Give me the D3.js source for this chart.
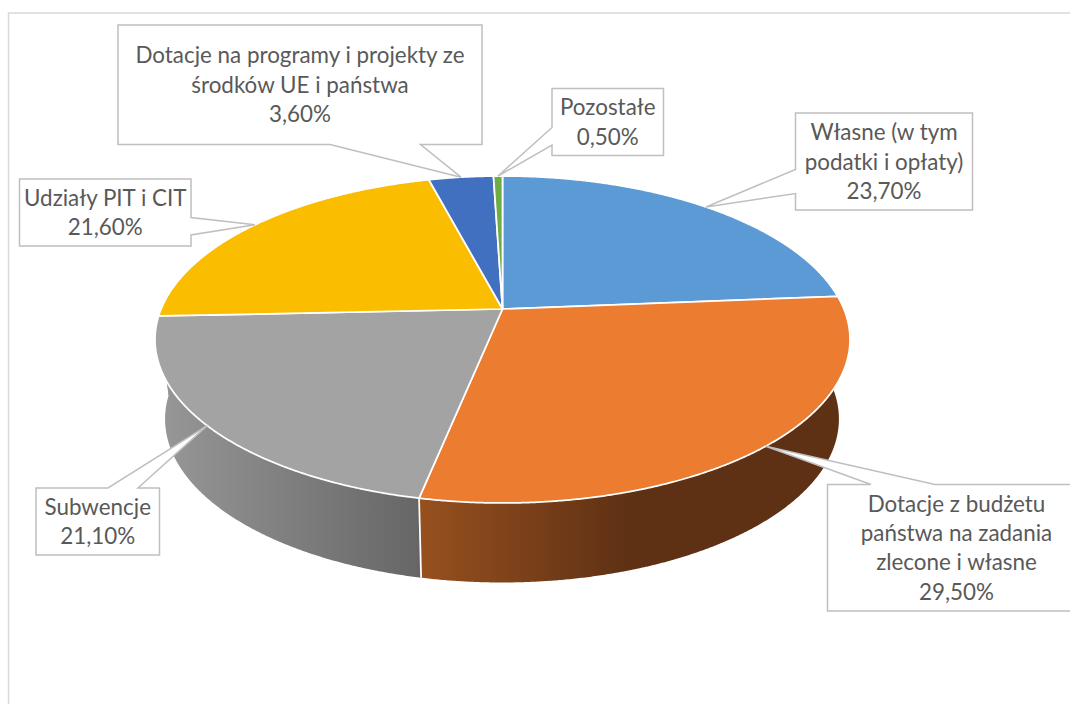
<!DOCTYPE html>
<html>
<head>
<meta charset="utf-8">
<script src="https://cdn.jsdelivr.net/npm/d3@7"></script>
<style>
  body { margin: 0; background: #fff; }
  svg { display: block; }
  text { font-family: Lato, "Open Sans", sans-serif; font-size: 22.4px; fill: #595959; }
</style>
</head>
<body>
<div id="content"></div>
<script>
const categories = [
  ["Własne (w tym", "podatki i opłaty)"],
  ["Dotacje z budżetu", "państwa na zadania", "zlecone i własne"],
  ["Subwencje"],
  ["Udziały PIT i CIT"],
  ["Dotacje na programy i projekty ze", "środków UE i państwa"],
  ["Pozostałe"]
];
const values = [23.7, 29.5, 21.1, 21.6, 3.6, 0.5];
const topColors = ["#5b9ad5", "#eb7c30", "#a3a3a3", "#fbbd00", "#4270c0", "#6eac45"];
const sideColors = ["#37618a", "url(#sideOrange)", "url(#sideGray)", "url(#sideGray)", "#2a4a80", "#47702c"];

// callout boxes: x, y, w, h, side the tail leaves from, tail base start/end along that side
const boxes = [
  [795.5, 113, 177, 97, "left", 169.5, 193.5],
  [827.5, 484.5, 258, 126.5, "top", 871, 935],
  [36, 488, 123.5, 67, "top", 108, 138],
  [19.5, 179, 171.5, 67, "right", 217.5, 235],
  [118, 25, 364, 119.5, "bottom", 330, 420.5],
  [552, 88.5, 111.5, 67, "left", 127.5, 145]
];

const svg = d3
  .select("#content")
  .append("svg")
  .attr("width", 1070)
  .attr("height", 704);

const defs = svg.append("defs");
function addGradient(id, x1, x2, stops) {
  const g = defs
    .append("linearGradient")
    .attr("id", id)
    .attr("gradientUnits", "userSpaceOnUse")
    .attr("x1", x1)
    .attr("x2", x2)
    .attr("y1", 0)
    .attr("y2", 0);
  stops.forEach((s) => g.append("stop").attr("offset", s[0]).attr("stop-color", s[1]));
}
addGradient("sideOrange", 421, 632, [[0, "#96501e"], [1, "#5e3014"]]);
addGradient("sideGray", 155, 420, [[0, "#989898"], [1, "#666666"]]);

// chart frame, only top and left are visible
svg
  .append("path")
  .attr("d", "M8.5,704V13H1070")
  .attr("fill", "none")
  .attr("stroke", "#d9d9d9")
  .attr("stroke-width", 1.5);

// tilted disc: circle seen in perspective, k is the perspective strength
const k = 0.1865;
function project(a, plane) {
  const u = Math.sin(a);
  const v = -Math.cos(a);
  const d = 1 - k * v;
  return [plane.x + (plane.rx * u) / d, plane.y + (plane.ry * v) / d];
}
const topPlane = { x: 502.5, y: 309, rx: 341.4, ry: 157.8 };
const bottomPlane = { x: 502, y: 388.5, rx: 331, ry: 157.8 };

const arcs = d3.pie().sort(null).value((d) => d)(values);
const line = d3.line();

function rim(d, plane) {
  const angles = d3.range(d.startAngle, d.endAngle, 0.005).concat([d.endAngle]);
  return angles.map((a) => project(a, plane));
}

// sides first, the top face covers whatever is behind
svg
  .append("g")
  .selectAll("path")
  .data(arcs)
  .enter()
  .append("path")
  .attr("d", (d) => line(rim(d, topPlane).concat(rim(d, bottomPlane).reverse())) + "Z")
  .attr("fill", (d, i) => sideColors[i])
  .attr("stroke", "none");

// white edge between the two visible side pieces
const seam = arcs[1].endAngle;
svg
  .append("path")
  .attr("d", line([project(seam, topPlane), project(seam, bottomPlane)]))
  .attr("stroke", "#fff")
  .attr("stroke-width", 1.75)
  .attr("fill", "none");

svg
  .append("g")
  .selectAll("path")
  .data(arcs)
  .enter()
  .append("path")
  .attr("d", (d) => line([[topPlane.x, topPlane.y]].concat(rim(d, topPlane))) + "Z")
  .attr("fill", (d, i) => topColors[i])
  .attr("stroke", "#fff")
  .attr("stroke-width", 1.75)
  .attr("stroke-linejoin", "round");

// callouts
const pl = d3.formatLocale({ decimal: ",", thousands: " ", grouping: [3], currency: ["", ""] });
const fmt = pl.format(".2f");

function calloutPath(b, tip) {
  const [x, y, w, h, side, t0, t1] = b;
  const r = x + w;
  const e = y + h;
  const pts = [[x, y]];
  if (side === "top") pts.push([t0, y], tip, [t1, y]);
  pts.push([r, y]);
  if (side === "right") pts.push([r, t0], tip, [r, t1]);
  pts.push([r, e]);
  if (side === "bottom") pts.push([t1, e], tip, [t0, e]);
  pts.push([x, e]);
  if (side === "left") pts.push([x, t1], tip, [x, t0]);
  return line(pts) + "Z";
}

const callouts = svg
  .append("g")
  .selectAll("g")
  .data(arcs)
  .enter()
  .append("g");

callouts
  .append("path")
  .attr("d", (d, i) => calloutPath(boxes[i], project((d.startAngle + d.endAngle) / 2, topPlane)))
  .attr("fill", "#fff")
  .attr("stroke", "#bfbfbf")
  .attr("stroke-width", 1.5);

const lineHeight = 29.4;
callouts
  .append("text")
  .attr("text-anchor", "middle")
  .each(function (d, i) {
    const b = boxes[i];
    const rows = categories[i].concat([fmt(values[i]) + "%"]);
    const cx = b[0] + b[2] / 2;
    const first = b[1] + b[3] / 2 - ((rows.length - 1) * lineHeight) / 2 + 8;
    d3.select(this)
      .selectAll("tspan")
      .data(rows)
      .enter()
      .append("tspan")
      .attr("x", cx)
      .attr("y", (r, j) => first + j * lineHeight)
      .text((r) => r);
  });
</script>
</body>
</html>
